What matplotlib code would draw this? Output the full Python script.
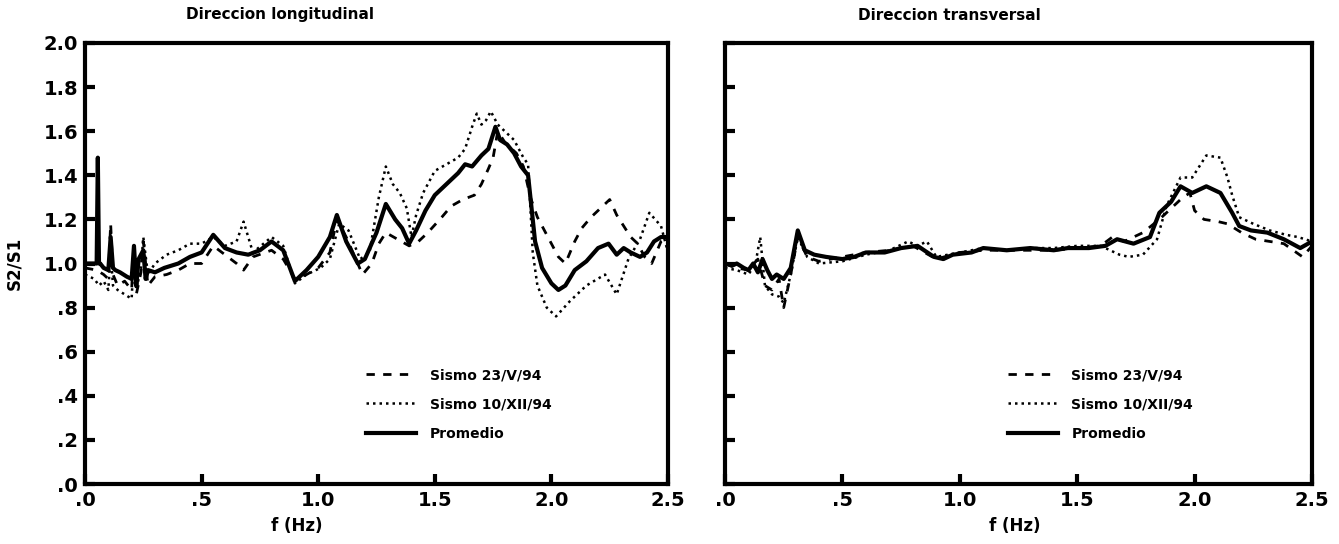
import matplotlib
matplotlib.use("Agg")
import matplotlib.pyplot as plt

# ---------------- data ----------------
x_ticks = [0.0, 0.5, 1.0, 1.5, 2.0, 2.5]
x_tick_labels = [".0", ".5", "1.0", "1.5", "2.0", "2.5"]
y_ticks = [0.0, 0.2, 0.4, 0.6, 0.8, 1.0, 1.2, 1.4, 1.6, 1.8, 2.0]
y_tick_labels = [".0", ".2", ".4", ".6", ".8", "1.0", "1.2", "1.4", "1.6", "1.8", "2.0"]
series_labels = ["Sismo 23/V/94", "Sismo 10/XII/94", "Promedio"]
titles = ["Direccion longitudinal", "Direccion transversal"]

# Left panel: longitudinal
long_prom_f = [0, 0.05, 0.055, 0.06, 0.065, 0.08, 0.1, 0.11, 0.12, 0.13, 0.15, 0.18, 0.2, 0.21, 0.22,
               0.23, 0.25, 0.26, 0.27, 0.3, 0.34, 0.4, 0.45, 0.5, 0.55, 0.6, 0.65, 0.7, 0.75, 0.8,
               0.85, 0.9, 0.95, 1.0, 1.05, 1.08, 1.12, 1.17, 1.2, 1.25, 1.29, 1.33, 1.36, 1.39, 1.42,
               1.46, 1.5, 1.55, 1.6, 1.63, 1.66, 1.7, 1.73, 1.76, 1.78, 1.81, 1.84, 1.87, 1.9, 1.93,
               1.96, 2.0, 2.03, 2.06, 2.1, 2.15, 2.2, 2.245, 2.28, 2.31, 2.34, 2.38, 2.41, 2.44, 2.47, 2.5]
long_prom_v = [1.0, 1.0, 1.48, 1.0, 1.0, 0.98, 0.97, 1.12, 0.98, 0.97, 0.96, 0.94, 0.93, 1.08, 0.9,
               1.02, 1.06, 0.93, 0.97, 0.96, 0.98, 1.0, 1.03, 1.05, 1.13, 1.07, 1.05, 1.04, 1.06, 1.10,
               1.06, 0.92, 0.97, 1.03, 1.12, 1.22, 1.1, 1.0, 1.02, 1.14, 1.27, 1.2, 1.16, 1.09, 1.15,
               1.24, 1.31, 1.36, 1.41, 1.45, 1.44, 1.49, 1.52, 1.62, 1.56, 1.54, 1.5, 1.44, 1.4, 1.1,
               0.98, 0.91, 0.88, 0.9, 0.97, 1.01, 1.07, 1.09, 1.04, 1.07, 1.05, 1.03, 1.05, 1.1, 1.12, 1.12]

long_s1_f = [0, 0.05, 0.08, 0.1, 0.11, 0.12, 0.14, 0.17, 0.2, 0.21,
             0.22, 0.24, 0.25, 0.27, 0.3, 0.35, 0.4, 0.45, 0.5, 0.55,
             0.6, 0.65, 0.68, 0.72, 0.8, 0.85, 0.9, 0.95, 1.0, 1.05,
             1.08, 1.12, 1.19, 1.23, 1.26, 1.29, 1.34, 1.39, 1.43, 1.47,
             1.53, 1.57, 1.62, 1.67, 1.7, 1.73, 1.75, 1.77, 1.8, 1.85,
             1.88, 1.91, 1.94, 1.97, 2.0, 2.03, 2.06, 2.1, 2.13, 2.17,
             2.21, 2.25, 2.28, 2.31, 2.34, 2.37, 2.4, 2.43, 2.47, 2.5]
long_s1_v = [0.98, 0.97, 0.95, 0.93, 1.18, 0.95, 0.9, 0.92, 0.88, 1.1,
             0.86, 0.96, 1.1, 0.9, 0.94, 0.95, 0.97, 1.0, 1.0, 1.08,
             1.04, 1.0, 0.97, 1.03, 1.06, 1.02, 0.93, 0.95, 0.98, 1.05,
             1.2, 1.12, 0.95, 1.0, 1.09, 1.14, 1.11, 1.08, 1.1, 1.14,
             1.21, 1.26, 1.29, 1.31, 1.36, 1.43, 1.48, 1.6, 1.55, 1.5,
             1.44, 1.3, 1.21, 1.15, 1.09, 1.03, 1.0, 1.1, 1.16, 1.21,
             1.25, 1.29, 1.22, 1.17, 1.12, 1.09, 1.03, 1.0, 1.1, 1.12]

long_s2_f = [0, 0.04, 0.06, 0.08, 0.1, 0.11, 0.12, 0.14, 0.17, 0.2,
             0.21, 0.22, 0.24, 0.25, 0.27, 0.3, 0.35, 0.4, 0.45, 0.5,
             0.55, 0.6, 0.65, 0.68, 0.72, 0.8, 0.85, 0.9, 0.95, 1.01,
             1.05, 1.09, 1.13, 1.18, 1.22, 1.26, 1.29, 1.32, 1.35, 1.38,
             1.4, 1.42, 1.45, 1.5, 1.55, 1.6, 1.63, 1.66, 1.68, 1.7,
             1.72, 1.74, 1.77, 1.8, 1.84, 1.88, 1.9, 1.92, 1.94, 1.98,
             2.02, 2.08, 2.15, 2.23, 2.28, 2.33, 2.38, 2.42, 2.47, 2.5]
long_s2_v = [0.95, 0.93, 0.9, 0.92, 0.88, 1.05, 0.9, 0.88, 0.86, 0.84,
             1.05, 0.88, 0.98, 1.12, 0.95, 1.0, 1.04, 1.06, 1.09, 1.09,
             1.12, 1.08, 1.1, 1.19, 1.05, 1.12, 1.08, 0.91, 0.95, 0.98,
             1.02, 1.18, 1.15, 1.02, 1.05, 1.3, 1.44, 1.36, 1.32, 1.25,
             1.12, 1.22, 1.32, 1.42, 1.45, 1.48, 1.52, 1.62, 1.68, 1.63,
             1.65, 1.69, 1.63, 1.6, 1.56, 1.48, 1.45, 1.05, 0.9, 0.8,
             0.76, 0.83, 0.9, 0.95, 0.86, 1.02, 1.11, 1.23, 1.17, 1.05]

# Right panel: transversal
trans_prom_f = [0, 0.03, 0.05, 0.08, 0.1, 0.12, 0.14, 0.16, 0.18, 0.2,
                0.22, 0.25, 0.28, 0.31, 0.34, 0.38, 0.43, 0.5, 0.55, 0.6,
                0.68, 0.75, 0.82, 0.89, 0.93, 0.97, 1.05, 1.1, 1.2, 1.3,
                1.4, 1.46, 1.55, 1.62, 1.67, 1.74, 1.81, 1.85, 1.9, 1.94,
                1.99, 2.05, 2.11, 2.16, 2.19, 2.24, 2.31, 2.38, 2.45, 2.5]
trans_prom_v = [1.0, 0.99, 1.0, 0.98, 0.97, 1.0, 0.96, 1.02, 0.97, 0.93,
                0.95, 0.93, 0.98, 1.15, 1.06, 1.04, 1.03, 1.02, 1.03, 1.05,
                1.05, 1.07, 1.08, 1.03, 1.02, 1.04, 1.05, 1.07, 1.06, 1.07,
                1.06, 1.07, 1.07, 1.08, 1.11, 1.09, 1.12, 1.23, 1.28, 1.35,
                1.32, 1.35, 1.32, 1.23, 1.17, 1.15, 1.14, 1.11, 1.07, 1.1]

trans_s1_f = [0, 0.05, 0.1, 0.14, 0.17, 0.2, 0.23, 0.25, 0.28, 0.31,
              0.35, 0.4, 0.5, 0.6, 0.7, 0.8, 0.9, 1.0, 1.1, 1.2,
              1.3, 1.4, 1.5, 1.6, 1.65, 1.7, 1.78, 1.85, 1.9, 1.95,
              1.98, 2.0, 2.04, 2.1, 2.14, 2.2, 2.26, 2.32, 2.38, 2.42,
              2.46, 2.5]
trans_s1_v = [1.0, 0.98, 0.97, 1.02, 0.9, 0.88, 0.93, 0.8, 0.95, 1.12,
              1.03, 1.01, 1.03, 1.05, 1.06, 1.08, 1.02, 1.05, 1.06, 1.06,
              1.06, 1.06, 1.07, 1.08, 1.12, 1.1, 1.14, 1.2, 1.25, 1.3,
              1.32, 1.24, 1.2, 1.19, 1.18, 1.14, 1.11, 1.1, 1.09, 1.06,
              1.03, 1.08]

trans_s2_f = [0, 0.05, 0.1, 0.13, 0.15, 0.17, 0.2, 0.23, 0.25, 0.28,
              0.31, 0.35, 0.4, 0.5, 0.6, 0.7, 0.78, 0.82, 0.86, 0.9,
              1.0, 1.1, 1.2, 1.3, 1.4, 1.5, 1.6, 1.68, 1.72, 1.78,
              1.84, 1.88, 1.94, 1.99, 2.05, 2.11, 2.14, 2.16, 2.19, 2.25,
              2.32, 2.39, 2.44, 2.5]
trans_s2_v = [0.98, 0.97, 0.95, 1.0, 1.12, 0.9, 0.86, 0.85, 0.82, 0.95,
              1.12, 1.03, 1.0, 1.01, 1.04, 1.06, 1.1, 1.08, 1.1, 1.03,
              1.05, 1.07, 1.06, 1.07, 1.07, 1.08, 1.08, 1.04, 1.03, 1.04,
              1.11, 1.26, 1.39, 1.39, 1.49, 1.48, 1.39, 1.31, 1.21, 1.18,
              1.15, 1.13, 1.12, 1.1]

# ---------------- figure ----------------
plt.rcParams['font.family'] = ['DejaVu Sans']
W, H = 1339, 544
fig = plt.figure(figsize=(W / 100, H / 100), dpi=100)

ax_l = fig.add_axes([85 / W, 1 - 484 / H, (668 - 85) / W, (484 - 43) / H])
ax_r = fig.add_axes([725 / W, 1 - 484 / H, (1312 - 725) / W, (484 - 43) / H])

panels = [
    (ax_l, long_s1_f, long_s1_v, long_s2_f, long_s2_v, long_prom_f, long_prom_v),
    (ax_r, trans_s1_f, trans_s1_v, trans_s2_f, trans_s2_v, trans_prom_f, trans_prom_v),
]
title_x = [0.334, 0.383]
xlabel_x = [0.364, 0.494]

for i, (ax, f1, v1, f2, v2, fp, vp) in enumerate(panels):
    ax.plot(f1, v1, color='black', lw=2.0, linestyle=(0, (3, 3)), label=series_labels[0])
    ax.plot(f2, v2, color='black', lw=1.8, linestyle=(0, (1, 1.6)), label=series_labels[1])
    ax.plot(fp, vp, color='black', lw=3.0, linestyle='-', label=series_labels[2])
    ax.set_xlim(0, 2.5)
    ax.set_ylim(0, 2.0)
    ax.set_xticks(x_ticks)
    ax.set_xticklabels(x_tick_labels, fontsize=14, fontweight='bold')
    ax.set_yticks(y_ticks)
    if i == 0:
        ax.set_yticklabels(y_tick_labels, fontsize=14, fontweight='bold')
        ax.set_ylabel("S2/S1", fontsize=12, fontweight='bold')
        ax.yaxis.set_label_coords(-0.106, 0.5)
    else:
        ax.set_yticklabels([])
    ax.tick_params(direction='in', length=7, width=3, top=False, right=False, pad=5)
    for s in ax.spines.values():
        s.set_linewidth(3)
    ax.set_xlabel("f (Hz)", fontsize=12, fontweight='bold')
    ax.xaxis.set_label_coords(xlabel_x[i], -0.075)
    ax.text(title_x[i], 1.0 + 28 / 441, titles[i], transform=ax.transAxes,
            ha='center', va='center', fontsize=11, fontweight='bold')
    ax.legend(loc='lower left', bbox_to_anchor=(0.46, 0.07), frameon=False,
              handlelength=3.6, handletextpad=1.0, labelspacing=1.1,
              prop={'weight': 'bold', 'size': 10})

fig.savefig("out.png", dpi=100)
